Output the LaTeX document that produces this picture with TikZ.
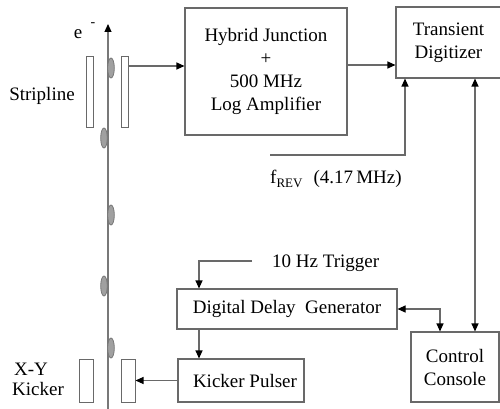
\documentclass[tikz,border=0pt]{standalone}
\usepackage{fontspec}
\setmainfont{Liberation Serif}
\usetikzlibrary{arrows.meta,calc}
\definecolor{linecol}{RGB}{105,105,105}
\definecolor{beamcol}{RGB}{120,120,120}
\definecolor{bunchfill}{RGB}{160,160,160}
\begin{document}
\begin{tikzpicture}[x=1pt,y=-1pt,
  font=\fontsize{19}{23}\selectfont,
  box/.style={draw=linecol, line width=1.1pt, fill=white, align=center, inner sep=0pt},
  plate/.style={draw=linecol, line width=1pt, fill=white, inner sep=0pt},
  tip/.style={-{Triangle[length=8pt,width=7pt,color=black]}},
  arr/.style={draw=linecol, line width=1.1pt, tip},
  dblarr/.style={draw=linecol, line width=1.1pt, {Triangle[length=8pt,width=7pt,color=black]}-{Triangle[length=8pt,width=7pt,color=black]}},
  bunch/.style={draw=beamcol, line width=0.8pt, fill=bunchfill},
  lbl/.style={inner sep=0pt}]
\useasboundingbox (0,0) rectangle (500,409);

% beam line
\coordinate (beamB) at (108,412);
\coordinate (beamT) at (108,24);
\draw[draw=beamcol, line width=1.2pt, tip] (beamB) -- (beamT);
\node[lbl] (elab) at (78,34) {e};
\node[lbl, font=\fontsize{14}{14}\selectfont] (emin) at (93,25) {-};

% stripline plates
\node[plate, minimum width=7pt, minimum height=70pt] (sL) at (89.5,92) {};
\node[plate, minimum width=7pt, minimum height=70pt] (sR) at (124.5,92) {};
\node[lbl] (striplab) at (42,96) {Stripline};

% kicker plates
\node[plate, minimum width=14pt, minimum height=43pt] (kL) at (86,380.5) {};
\node[plate, minimum width=14pt, minimum height=43pt] (kR) at (128,380.5) {};
\node[lbl] (xylab) at (31,369) {X-Y};
\node[lbl] (kicklab) at (38,389) {Kicker};

% bunches
\draw[bunch] (111,68) ellipse [x radius=3.3pt, y radius=10pt];
\draw[bunch] (104,138) ellipse [x radius=3.3pt, y radius=10pt];
\draw[bunch] (111,215) ellipse [x radius=3.3pt, y radius=10pt];
\draw[bunch] (104,286) ellipse [x radius=3.3pt, y radius=10pt];
\draw[bunch] (111,348) ellipse [x radius=3.3pt, y radius=10pt];

% boxes
\node[box, minimum width=162pt, minimum height=127pt] (hyb) at (266,71.5)
  {Hybrid Junction\\+\\500 MHz\\Log Amplifier};
\node[box, minimum width=105pt, minimum height=71pt] (td) at (448.5,42.5)
  {Transient\\Digitizer};
\node[box, minimum width=220pt, minimum height=40pt] (ddg) at (287,309)
  {Digital Delay\ \ Generator};
\node[box, minimum width=126pt, minimum height=43pt] (kp) at (241,380.5)
  {\hspace*{8pt}Kicker Pulser};
\node[box, minimum width=88pt, minimum height=70pt] (cc) at (455,367)
  {Control\\Console};

% connectors
\draw[arr] (sR.east |- 0,66) -- (hyb.west |- 0,66);
\draw[arr] (hyb.east |- 0,65) -- (td.west |- 0,65);

\coordinate (frev) at (270,155);
\draw[arr] (frev) -| (td.south -| 405,0);
\node[lbl, anchor=base west] (frevlab) at (270,183)
  {f\raisebox{-4pt}{\fontsize{13}{13}\selectfont REV}\hspace{11pt}(4.17\,MHz)};

\draw[dblarr] (td.south -| 475,0) -- (cc.north -| 475,0);

\coordinate (trig) at (252,261);
\draw[arr] (trig) -| (ddg.north -| 199,0);
\node[lbl, anchor=west] (triglab) at (272,263) {10 Hz Trigger};

\draw[dblarr] (ddg.east) -| (cc.north -| 440,0);
\draw[arr] (ddg.south -| 199,0) -- (kp.north -| 199,0);
\draw[arr] (kp.west) -- (kR.east |- kp.west);
\end{tikzpicture}
\end{document}
